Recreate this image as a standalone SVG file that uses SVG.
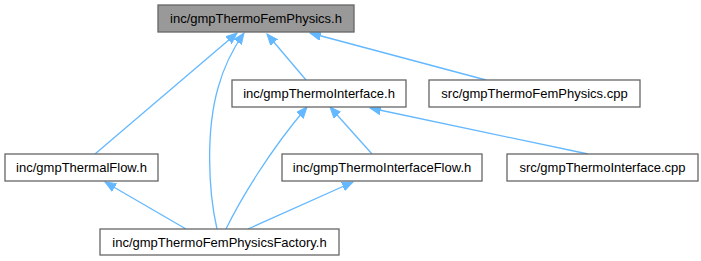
<svg xmlns="http://www.w3.org/2000/svg" width="701" height="261" viewBox="0 0 701 261">
<style>
.n rect{fill:#ffffff;stroke:#666666;stroke-width:1.3}
.n.root rect{fill:#999999}
.n text{font-family:"Liberation Sans",Arial,sans-serif;font-size:13px;fill:#000000;text-anchor:middle}
.e path{fill:none;stroke:#63b8ff;stroke-width:1.3;marker-end:url(#ah)}
</style>
<defs>
<marker id="ah" markerUnits="userSpaceOnUse" markerWidth="12" markerHeight="10" refX="11" refY="5" orient="auto" viewBox="0 0 12 10">
<path d="M0,0.5 L11,5 L0,9.5 z" fill="#63b8ff" stroke="#63b8ff" stroke-width="1"/>
</marker>
</defs>
<g id="edges" class="e">
<path d="M95,154 L237,33"/>
<path d="M217,229 C208,190 206,130 218,88 C224,66 232,50 244,33"/>
<path d="M306,80 L267,34"/>
<path d="M486,80 L310,33"/>
<path d="M226,229 C240,200 270,150 307,107"/>
<path d="M372,154 L330,107"/>
<path d="M588,154 L370,108"/>
<path d="M186,229 L105,182"/>
<path d="M248,229 L353,182"/>
</g>
<g id="node-root" class="n root">
<rect x="158" y="5" width="196" height="27"/>
<text x="256" y="23">inc/gmpThermoFemPhysics.h</text>
</g>
<g id="node-thermointerface" class="n">
<rect x="232" y="80" width="174" height="27"/>
<text x="319" y="98">inc/gmpThermoInterface.h</text>
</g>
<g id="node-femphysics-cpp" class="n">
<rect x="429" y="80" width="211" height="27"/>
<text x="534.5" y="98">src/gmpThermoFemPhysics.cpp</text>
</g>
<g id="node-thermalflow" class="n">
<rect x="5" y="154" width="153" height="27"/>
<text x="81.5" y="172">inc/gmpThermalFlow.h</text>
</g>
<g id="node-thermointerfaceflow" class="n">
<rect x="282" y="154" width="200" height="27"/>
<text x="382" y="172">inc/gmpThermoInterfaceFlow.h</text>
</g>
<g id="node-thermointerface-cpp" class="n">
<rect x="507" y="154" width="191" height="27"/>
<text x="602.5" y="172">src/gmpThermoInterface.cpp</text>
</g>
<g id="node-factory" class="n">
<rect x="100" y="229" width="239" height="26"/>
<text x="219.5" y="247">inc/gmpThermoFemPhysicsFactory.h</text>
</g>
</svg>
